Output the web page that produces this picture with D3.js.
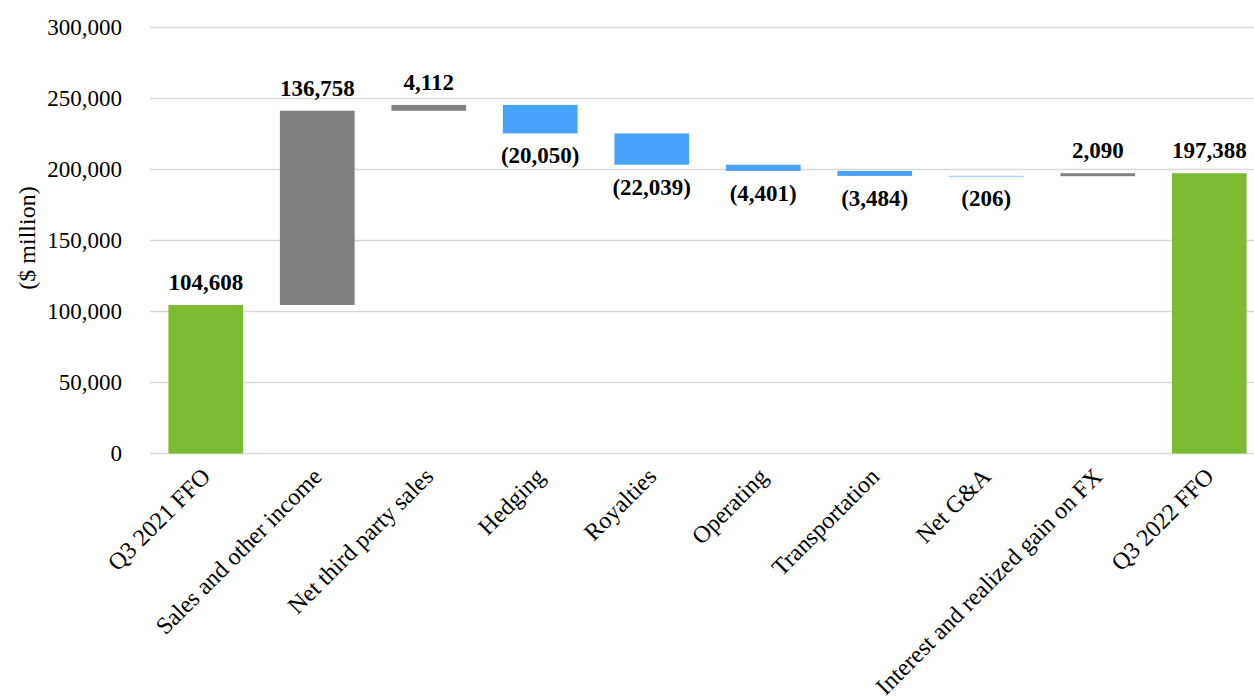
<!DOCTYPE html>
<html>
<head>
<meta charset="utf-8">
<script src="https://cdn.jsdelivr.net/npm/d3@7"></script>
<style>
  body { margin: 0; background: #fff; }
  svg, svg text { font-family: "Liberation Serif", "Times New Roman", Times, serif !important; }
</style>
</head>
<body>
<svg id="chart" width="1254" height="698"></svg>
<script>
// Data
const categories = ["Q3 2021 FFO", "Sales and other income", "Net third party sales", "Hedging",
    "Royalties", "Operating", "Transportation", "Net G&A", "Interest and realized gain on FX", "Q3 2022 FFO"];
const changes = [104608, 136758, 4112, -20050, -22039, -4401, -3484, -206, 2090, 197388];
const kinds = ["total", "up", "up", "down", "down", "down", "down", "down", "up", "total"];
const yTicks = [0, 50000, 100000, 150000, 200000, 250000, 300000];

const colors = { total: "#7cbc33", up: "#808080", down: "#4aa3fb" };

const svg = d3.select("#chart");

// Scales
const x = d3.scaleBand().domain(categories).range([150, 1265]).paddingInner(0.33).paddingOuter(0.165);
const y = d3.scaleLinear().domain([0, 300000]).range([453.5, 27.5]);

// Build waterfall steps
let running = 0;
const steps = categories.map((c, i) => {
    let y0, y1;
    if (kinds[i] === "total") {
        y0 = 0; y1 = changes[i]; running = changes[i];
    } else {
        y0 = running; y1 = running + changes[i]; running = y1;
    }
    return { cat: c, kind: kinds[i], value: changes[i], lo: Math.min(y0, y1), hi: Math.max(y0, y1) };
});

// Gridlines
svg.append("g")
    .selectAll("line")
    .data(yTicks)
    .join("line")
    .attr("x1", 150).attr("x2", 1265)
    .attr("y1", d => y(d)).attr("y2", d => y(d))
    .attr("stroke", "#d9d9d9").attr("stroke-width", 1.5);

// Y axis labels
const yAxis = svg.append("g")
    .attr("transform", "translate(122,0)")
    .call(d3.axisLeft(y).tickValues(yTicks).tickFormat(d3.format(",")).tickSize(0).tickPadding(0));
yAxis.select(".domain").remove();
yAxis.selectAll("text")
    .attr("font-size", 23).attr("fill", "#000");

// Y title
svg.append("text")
    .attr("transform", "translate(35,238) rotate(-90)")
    .attr("text-anchor", "middle")
    .attr("font-size", 24)
    .text("($ million)");

// Bars
svg.append("g")
    .selectAll("rect")
    .data(steps)
    .join("rect")
    .attr("x", d => x(d.cat))
    .attr("width", x.bandwidth())
    .attr("y", d => y(d.hi))
    .attr("height", d => Math.max(y(d.lo) - y(d.hi), 0.6))
    .attr("fill", d => colors[d.kind]);

// Value labels
const fmt = d3.format(",");
svg.append("g")
    .selectAll("text")
    .data(steps)
    .join("text")
    .attr("x", d => x(d.cat) + x.bandwidth() / 2)
    .attr("y", d => d.value < 0 ? y(d.lo) + 30 : y(d.hi) - 15)
    .attr("text-anchor", "middle")
    .attr("font-size", 23)
    .attr("font-weight", "bold")
    .text(d => d.value < 0 ? `(${fmt(-d.value)})` : fmt(d.value));

// X axis labels
svg.append("g")
    .selectAll("text")
    .data(categories)
    .join("text")
    .attr("transform", d => `translate(${x(d) + x.bandwidth() / 2 + 6},478) rotate(-45)`)
    .attr("text-anchor", "end")
    .attr("font-size", 24)
    .text(d => d);
</script>
</body>
</html>
